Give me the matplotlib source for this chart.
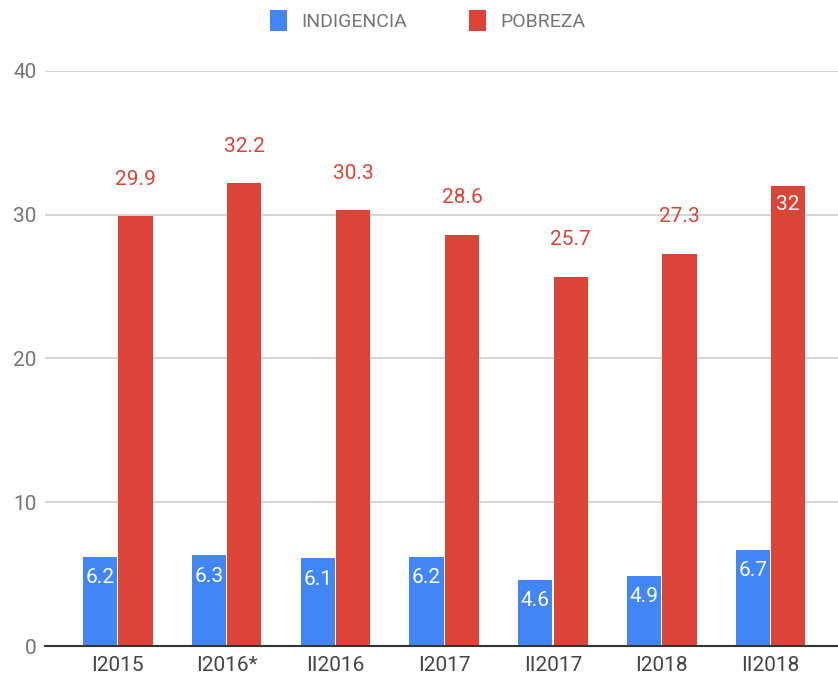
import numpy as np
import matplotlib.pyplot as plt

plt.rcParams['font.family'] = ['Roboto', 'DejaVu Sans']

periods = ['I2015', 'I2016*', 'II2016', 'I2017', 'II2017', 'I2018', 'II2018']
indigencia = [6.2, 6.3, 6.1, 6.2, 4.6, 4.9, 6.7]
pobreza = [29.9, 32.2, 30.3, 28.6, 25.7, 27.3, 32]
# last pobreza label is drawn inside its bar in the original
pobreza_inside = [False, False, False, False, False, False, True]

blue = '#4285F4'
red = '#DB4437'
w = 0.315

fig = plt.figure(figsize=(8.38, 6.8), dpi=100)
ax = fig.add_axes([0.0537, 0.05, 0.9463, 0.8456])

x = np.arange(len(periods))
b1 = ax.bar(x - w / 2 - 0.005, indigencia, w, color=blue, label='INDIGENCIA', zorder=3)
b2 = ax.bar(x + w / 2 + 0.005, pobreza, w, color=red, label='POBREZA', zorder=3)

ax.set_ylim(0, 40)
ax.set_xlim(-0.67, 6.62)
ax.set_yticks([0, 10, 20, 30, 40])
ax.grid(axis='y', color='#cccccc', linewidth=1.2, zorder=0)
ax.set_xticks(x)
ax.set_xticklabels(periods)
ax.tick_params(axis='x', length=0, labelsize=15, labelcolor='#444444', pad=7)
ax.tick_params(axis='y', length=0, labelsize=15, labelcolor='#757575', pad=6)
for s in ['top', 'right', 'left']:
    ax.spines[s].set_visible(False)
ax.spines['bottom'].set_color('#333333')
ax.spines['bottom'].set_linewidth(1.5)
ax.spines['bottom'].set_zorder(4)

for rect, v in zip(b1, indigencia):
    ax.annotate(f'{v:g}', (rect.get_x() + rect.get_width() / 2, v),
                xytext=(0, -21), textcoords='offset pixels', ha='center', va='center',
                color='white', fontsize=15, zorder=5)
for rect, v, inside in zip(b2, pobreza, pobreza_inside):
    cx = rect.get_x() + rect.get_width() / 2
    if inside:
        ax.annotate(f'{v:g}', (cx, v), xytext=(0, -19), textcoords='offset pixels',
                    ha='center', va='center', color='white', fontsize=15, zorder=5)
    else:
        ax.annotate(f'{v:g}', (cx, v), xytext=(0, 37), textcoords='offset pixels',
                    ha='center', va='center', color=red, fontsize=15, zorder=5)

fig.legend(handles=[b1, b2], loc='center', bbox_to_anchor=(0.51, 0.97), ncol=2,
           frameon=False, fontsize=14, labelcolor='#757575', handlelength=0.9,
           handleheight=1.3, handletextpad=0.7, columnspacing=3.2)

fig.savefig('out.png', dpi=100)
